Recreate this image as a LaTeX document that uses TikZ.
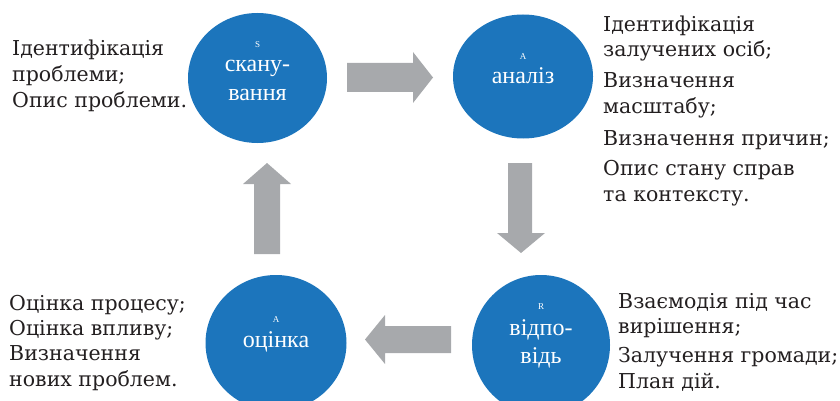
\documentclass[tikz,border=0pt]{standalone}
\usepackage{fontspec}
\setmainfont{DejaVu Serif}
\newfontfamily\circfont{Liberation Serif}
\usetikzlibrary{shapes.geometric}
\definecolor{cblue}{HTML}{1C75BC}
\definecolor{agray}{HTML}{A7A9AC}
\definecolor{txt}{HTML}{231F20}
\begin{document}
\begin{tikzpicture}[x=1pt,y=-1pt,
  stage/.style={ellipse, fill=cblue, draw=none, inner sep=0},
  side/.style={anchor=base west, inner sep=0, text=txt, font=\fontsize{20.5}{24}\selectfont},
  lab/.style={anchor=base, inner sep=0, text=white, font=\circfont\fontsize{24}{28}\selectfont},
  tinylab/.style={anchor=base, inner sep=0, text=white, font=\circfont\fontsize{9}{10}\selectfont},
  blockarrow/.style={fill=agray, draw=none}]
\useasboundingbox (0,0) rectangle (840,401);
% stages
\node[stage, minimum width=139pt, minimum height=130pt] (scan) at (257.5,78) {};
\node[stage, minimum width=140pt, minimum height=124pt] (anal) at (523,76.5) {};
\node[stage, minimum width=141pt, minimum height=136pt] (eval) at (276,343) {};
\node[stage, minimum width=138pt, minimum height=140pt] (resp) at (541,345) {};
% stage labels
\node[tinylab] (scanS) at (257.5,47.5) {S};
\node[lab] (scan1) at (257.5,72) {скану-};
\node[lab] (scan2) at (257.5,101) {вання};
\node[tinylab] (analA) at (523,59.5) {A};
\node[lab] (anal1) at (523,84) {аналіз};
\node[tinylab] (evalA) at (276,322.5) {A};
\node[lab] (eval1) at (276,347) {оцінка};
\node[tinylab] (respR) at (541,309.5) {R};
\node[lab] (resp1) at (541,335) {відпо-};
\node[lab] (resp2) at (541,363) {відь};
% block arrows
\fill[blockarrow] (347,63) -- (413,63) -- (413,52) -- (433,77.5) -- (413,103) -- (413,92) -- (347,92) -- cycle;
\fill[blockarrow] (508,163) -- (532,163) -- (532,233) -- (545,233) -- (521,253) -- (497,233) -- (508,233) -- cycle;
\fill[blockarrow] (451,326) -- (385,326) -- (385,315) -- (365,339.5) -- (385,364) -- (385,353) -- (451,353) -- cycle;
\fill[blockarrow] (254,254) -- (254,184) -- (243,184) -- (267,163) -- (291,184) -- (280,184) -- (280,254) -- cycle;
% left top text
\node[side] (lt1) at (12,56) {Ідентифікація};
\node[side] (lt2) at (12,82) {проблеми;};
\node[side] (lt3) at (12,108) {Опис проблеми.};
% right top text
\node[side] (rt1) at (603,31.7) {Ідентифікація};
\node[side] (rt2) at (603,56.7) {залучених осіб;};
\node[side] (rt3) at (603,87.3) {Визначення};
\node[side] (rt4) at (603,113.3) {масштабу;};
\node[side] (rt5) at (603,145) {Визначення причин;};
\node[side] (rt6) at (603,175) {Опис стану справ};
\node[side] (rt7) at (603,201.7) {та контексту.};
% left bottom text
\node[side] (lb1) at (9,310) {Оцінка процесу;};
\node[side] (lb2) at (9,335) {Оцінка впливу;};
\node[side] (lb3) at (9,360) {Визначення};
\node[side] (lb4) at (9,386) {нових проблем.};
% right bottom text
\node[side] (rb1) at (618,308) {Взаємодія під час};
\node[side] (rb2) at (618,333) {вирішення;};
\node[side] (rb3) at (618,362) {Залучення громади;};
\node[side] (rb4) at (618,388) {План дій.};
\end{tikzpicture}
\end{document}
